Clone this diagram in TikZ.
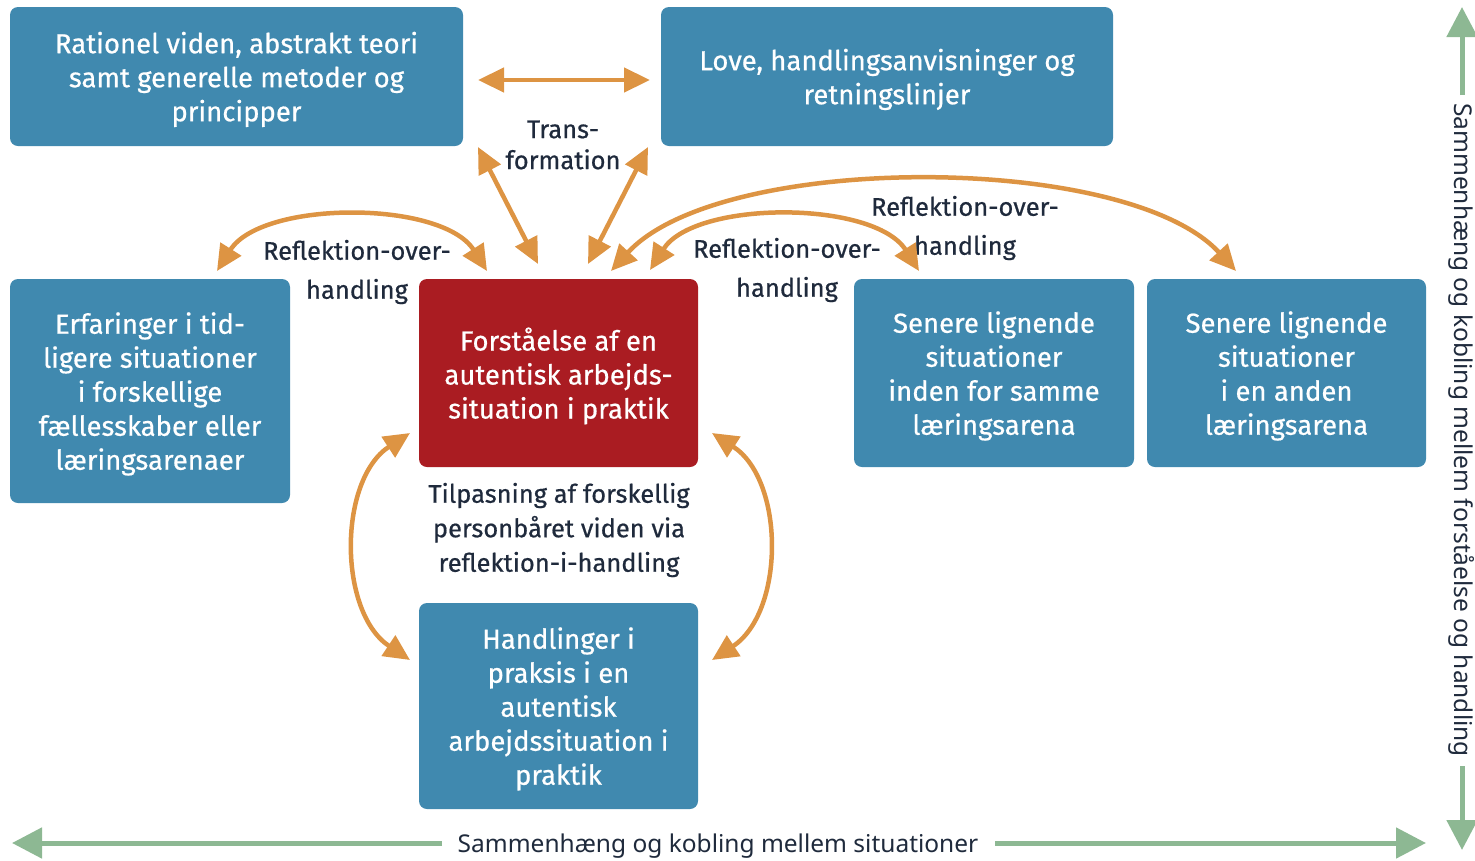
\documentclass[tikz,border=0pt]{standalone}
\usepackage{fontspec}
\setmainfont{Fira Sans}[FakeBold=0.6]
\newfontfamily\robo{Noto Sans}
\usetikzlibrary{arrows.meta}
\definecolor{boxblue}{HTML}{4089AF}
\definecolor{boxred}{HTML}{AA1C22}
\definecolor{arrorange}{HTML}{DD9443}
\definecolor{arrgreen}{HTML}{8DB893}
\definecolor{labtext}{HTML}{1F2A3C}
\tikzset{
  box/.style={rounded corners=8pt, fill=boxblue, text=white, align=center,
    font=\fontsize{27.5}{34}\selectfont, inner sep=0pt, text depth=0pt},
  redbox/.style={box, fill=boxred},
  lab/.style={text=labtext, align=center, font=\fontsize{25.5}{39}\selectfont, inner sep=0pt},
  oarr/.style={draw=arrorange, line width=4.5pt,
    {Triangle[length=26pt,width=24pt]}-{Triangle[length=26pt,width=24pt]}},
  garr/.style={draw=arrgreen, line width=5pt, -{Triangle[length=30pt,width=30pt]}},
  gtext/.style={text=labtext, font=\robo\fontsize{24.5}{28}\selectfont, inner sep=0pt},
}
\begin{document}
\begin{tikzpicture}[x=1pt,y=-1pt]
\useasboundingbox (0,0) rectangle (1475,860);
% boxes
\node[box, minimum width=453pt, minimum height=139pt] (A) at (236.5,76.5)
  {Rationel viden, abstrakt teori\\samt generelle metoder og\\principper};
\node[box, minimum width=452pt, minimum height=139pt] (B) at (887,76.5)
  {Love, handlingsanvisninger og\\retningslinjer};
\node[box, minimum width=280pt, minimum height=224pt] (C) at (150,391)
  {Erfaringer i tid-\\ligere situationer\\i forskellige\\fællesskaber eller\\læringsarenaer};
\node[redbox, minimum width=279pt, minimum height=188pt] (R) at (558.5,373)
  {Forståelse af en\\autentisk arbejds-\\situation i praktik};
\node[box, minimum width=280pt, minimum height=188pt] (D) at (994,373)
  {Senere lignende\\situationer\\inden for samme\\læringsarena};
\node[box, minimum width=279pt, minimum height=188pt] (E) at (1286.5,373)
  {Senere lignende\\situationer\\i en anden\\læringsarena};
\node[box, minimum width=279pt, minimum height=206pt] (F) at (558.5,706)
  {Handlinger i\\praksis i en\\autentisk\\arbejdssituation i\\praktik};
% labels
\node[lab, font=\fontsize{25.5}{31}\selectfont] (trans) at (563,145) {Trans-\\formation};
\node[lab] (rl) at (357,272) {Reflektion-over-\\handling};
\node[lab] (ri) at (787,270) {Reflektion-over-\\handling};
\node[lab] (ro) at (965,228) {Reflektion-over-\\handling};
\node[lab, font=\fontsize{25.5}{34.5}\selectfont] (tilp) at (559,530)
  {Tilpasning af forskellig\\personbåret viden via\\reflektion-i-handling};
% arrow end coordinates
\coordinate (h1) at (478,80);
\coordinate (h2) at (650,80);
\coordinate (t1a) at (478,147);
\coordinate (t1b) at (538,264);
\coordinate (t2a) at (648,147);
\coordinate (t2b) at (588,264);
\coordinate (l1) at (217,271);
\coordinate (l2) at (487,271);
\coordinate (i1) at (650,270);
\coordinate (i2) at (919,271);
\coordinate (o1) at (611,271);
\coordinate (o2) at (1236,271);
\coordinate (vl1) at (410,433);
\coordinate (vl2) at (410,660);
\coordinate (vr1) at (712,433);
\coordinate (vr2) at (712,660);
% orange arrows
\draw[oarr] (h1) -- (h2);
\draw[oarr] (t1a) -- (t1b);
\draw[oarr] (t2a) -- (t2b);
\draw[oarr] (l1) .. controls (262,200) and (442,200) .. (l2);
\draw[oarr] (i1) .. controls (695,200) and (874,200) .. (i2);
\draw[oarr] (o1) .. controls (720,152) and (1127,152) .. (o2);
\draw[oarr] (vl1) .. controls (338,480) and (338,612) .. (vl2);
\draw[oarr] (vr1) .. controls (785,480) and (785,612) .. (vr2);
% green arrows
\node[gtext] (bt) at (718,846) {Sammenhæng og kobling mellem situationer};
\coordinate (bl) at (12,843);
\coordinate (br) at (1426,843);
\draw[garr] (442,843) -- (bl);
\draw[garr] (995,843) -- (br);
\node[gtext, rotate=-90] (vt) at (1462,430) {Sammenhæng og kobling mellem forståelse og handling};
\coordinate (vtop) at (1462,7);
\coordinate (vbot) at (1462,850);
\draw[garr] (1462,95) -- (vtop);
\draw[garr] (1462,766) -- (vbot);
\end{tikzpicture}
\end{document}
